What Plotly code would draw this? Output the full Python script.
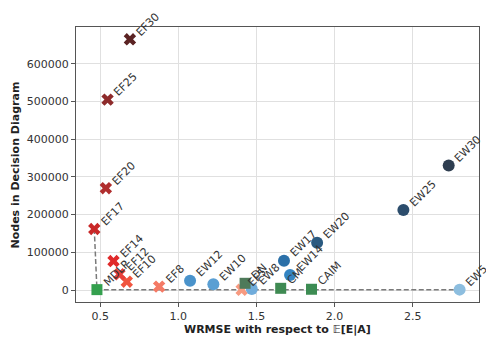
import plotly.graph_objects as go

# Equal-frequency (EF) discretizations
ef_labels = ["EF5", "EF8", "EF10", "EF12", "EF14", "EF17", "EF20", "EF25", "EF30"]
ef_x = [1.405, 0.877, 0.670, 0.623, 0.585, 0.462, 0.536, 0.547, 0.690]
ef_y = [500, 9000, 22000, 41600, 76900, 161800, 270000, 505000, 665000]
ef_colors = ["#f79a80", "#f47a65", "#f0553f", "#e8403a", "#e02a2a", "#c92828", "#b02e2e", "#8e2b2b", "#5b2323"]

# Equal-width (EW) discretizations
ew_labels = ["EW5", "EW8", "EW10", "EW12", "EW14", "EW17", "EW20", "EW25", "EW30"]
ew_x = [2.80, 1.47, 1.224, 1.075, 1.715, 1.676, 1.888, 2.44, 2.73]
ew_y = [1000, 2600, 15000, 24700, 39800, 77700, 125500, 212000, 330000]
ew_colors = ["#8dbedf", "#70acdb", "#5a9fd3", "#4a93cb", "#3384c2", "#2b70a8", "#2a5a80", "#2c4d6c", "#2f3e50"]

# Supervised methods
sup_labels = ["MDLP", "DN", "CM", "CAIM"]
sup_x = [0.479, 1.427, 1.655, 1.852]
sup_y = [1000, 17800, 4500, 2000]
sup_colors = ["#34a04e", "#4e7a5a", "#3f8a52", "#3d8c53"]

# Dashed front line
front_x = [0.462, 0.479, 2.80]
front_y = [161800, 1000, 1000]

x_ticks = [0.5, 1.0, 1.5, 2.0, 2.5]
y_ticks = [0, 100000, 200000, 300000, 400000, 500000, 600000]

x_title = "<b>WRMSE with respect to </b>𝔼<b>[E|A]</b>"
y_title = "<b>Nodes in Decision Diagram</b>"

fig = go.Figure()
fig.add_trace(go.Scatter(x=front_x, y=front_y, mode="lines",
                         line=dict(color="#7a7a7a", width=1.5, dash="5px,2.5px"),
                         hoverinfo="skip", showlegend=False))
fig.add_trace(go.Scatter(x=ef_x, y=ef_y, mode="markers", showlegend=False,
                         marker=dict(symbol="x", size=11, color=ef_colors, line=dict(width=0))))
fig.add_trace(go.Scatter(x=ew_x, y=ew_y, mode="markers", showlegend=False,
                         marker=dict(symbol="circle", size=12, color=ew_colors, line=dict(width=0))))
fig.add_trace(go.Scatter(x=sup_x, y=sup_y, mode="markers", showlegend=False,
                         marker=dict(symbol="square", size=11, color=sup_colors, line=dict(width=0))))

annotations = []
for labs, xs, ys in [(ef_labels, ef_x, ef_y), (ew_labels, ew_x, ew_y), (sup_labels, sup_x, sup_y)]:
    for l, x, y in zip(labs, xs, ys):
        annotations.append(dict(x=x, y=y, text=l, showarrow=False, textangle=-45,
                                xanchor="left", yanchor="bottom", xshift=1, yshift=-2,
                                font=dict(family="DejaVu Sans", size=11, color="#333333")))

title_font = dict(family="DejaVu Sans", size=11, color="#222222")
annotations.append(dict(xref="paper", yref="paper", x=0.5, y=-0.1, text=x_title,
                        showarrow=False, xanchor="center", yanchor="middle", font=title_font))
annotations.append(dict(xref="paper", yref="paper", x=-0.1489, y=0.5, text=y_title,
                        showarrow=False, textangle=-90, xanchor="center", yanchor="middle",
                        font=title_font))

axis_common = dict(showline=True, linecolor="#555555", linewidth=1.25, mirror=True,
                   ticks="outside", ticklen=4, tickcolor="#555555", automargin=False,
                   showgrid=True, gridcolor="#e0e0e0", gridwidth=1, zeroline=False,
                   tickfont=dict(family="DejaVu Sans", size=11, color="#333333"))

fig.update_layout(
    width=486, height=337,
    margin=dict(l=76, r=7, t=27, b=35),
    paper_bgcolor="white", plot_bgcolor="white",
    annotations=annotations,
    xaxis=dict(range=[0.345, 2.924], tickvals=x_ticks, tickformat=".1f", **axis_common),
    yaxis=dict(range=[-31800, 697600], tickvals=y_ticks, tickformat="d", **axis_common),
)

fig.write_html("out.html")
